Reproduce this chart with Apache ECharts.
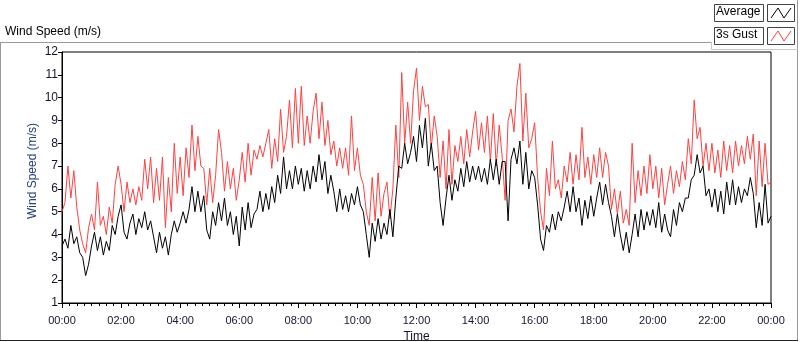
<!DOCTYPE html>
<html>
<head>
<meta charset="utf-8">
<script src="https://cdn.jsdelivr.net/npm/echarts@6/dist/echarts.min.js"></script>
<style>
  html, body { margin: 0; padding: 0; background: #fff; }
  #chart { width: 800px; height: 342px; }
</style>
</head>
<body>
<div id="chart"></div>
<script>
// one reading every 6 minutes, 00:00 .. 24:00
var stepMin = 6;

// Average wind speed (m/s), 10 readings per hour
var avgSpeed = [
  3.5, 3.8, 3.4, 4.4, 3.6, 3.9, 3.2, 3.0, 2.2, 2.7,
  3.5, 4.1, 3.3, 3.9, 3.1, 3.7, 3.3, 4.4, 4.0, 4.8,
  5.3, 4.1, 3.8, 4.5, 4.9, 4.0, 4.7, 4.3, 5.0, 4.2,
  4.6, 3.9, 3.2, 4.1, 3.4, 3.9, 3.1, 4.0, 4.6, 4.1,
  4.5, 5.0, 4.5, 5.1, 6.1, 5.0, 5.9, 5.0, 5.7, 4.2,
  3.8, 5.0, 4.4, 5.4, 4.6, 5.6, 4.4, 5.0, 4.0, 4.8,
  3.5, 5.2, 4.2, 5.4, 4.3, 4.9, 5.1, 5.9, 5.0, 5.8,
  5.1, 6.1, 5.4, 6.6, 5.8, 7.4, 6.0, 6.8, 6.0, 7.0,
  6.2, 6.9, 5.9, 6.8, 6.0, 7.0, 6.3, 7.5, 6.4, 7.2,
  5.8, 6.6, 5.9, 5.0, 6.0, 5.1, 5.7, 5.0, 5.8, 5.3,
  6.1, 5.3, 5.0, 4.0, 3.0, 4.5, 3.7, 4.7, 3.8, 4.5,
  4.0, 5.1, 3.9, 5.6, 7.0, 6.9, 8.0, 7.1, 7.6, 8.3,
  7.2, 8.8, 7.8, 9.1, 7.0, 8.0, 6.8, 7.0, 5.4, 4.4,
  5.6, 6.6, 5.5, 6.4, 5.9, 6.9, 6.1, 7.2, 6.3, 7.0,
  6.4, 7.0, 6.3, 6.9, 6.2, 7.3, 6.4, 7.3, 6.2, 7.2,
  7.2, 4.6, 7.3, 7.8, 7.1, 8.1, 6.2, 7.6, 6.0, 6.8,
  6.5, 5.3, 3.8, 3.3, 4.4, 4.1, 4.9, 4.2, 5.0, 4.6,
  5.2, 5.9, 5.0, 6.1, 5.0, 5.6, 4.4, 5.5, 4.7, 5.7,
  4.8, 5.6, 6.3, 5.3, 6.2, 5.4, 4.8, 3.9, 4.9, 4.0,
  3.3, 4.1, 3.2, 4.0, 4.9, 3.9, 5.1, 4.2, 5.0, 4.4,
  5.1, 4.3, 5.4, 4.1, 4.9, 4.2, 3.9, 5.1, 4.4, 5.4,
  5.0, 5.6, 5.6, 6.4, 6.6, 7.5, 6.7, 7.0, 5.7, 6.0,
  5.2, 6.0, 5.0, 5.9, 4.9, 6.3, 5.3, 6.4, 5.3, 6.1,
  5.4, 6.0, 5.7, 6.5, 5.8, 4.3, 5.4, 4.4, 6.2, 4.5,
  4.8
];

// 3 second gust (m/s)
var gustSpeed = [
  5.0, 5.4, 7.0, 5.6, 6.8, 5.2, 4.2, 3.6, 3.2, 4.3,
  4.9, 4.2, 6.3, 4.4, 4.8, 4.0, 5.2, 4.5, 6.2, 7.0,
  6.2, 5.0, 6.3, 5.4, 6.0, 5.3, 6.1, 5.5, 7.3, 6.0,
  7.4, 5.4, 6.9, 5.5, 7.4, 4.3, 6.5, 5.0, 8.0, 5.8,
  7.4, 5.7, 7.8, 6.5, 8.8, 6.8, 8.3, 7.0, 6.9, 5.3,
  6.9, 5.4, 6.6, 8.6, 7.6, 5.9, 7.2, 6.0, 6.9, 5.5,
  6.4, 7.6, 6.3, 8.0, 6.6, 7.7, 7.3, 7.9, 7.4, 8.0,
  8.6, 6.9, 8.2, 7.2, 9.5, 7.6, 8.3, 9.9, 7.8, 10.4,
  8.0, 10.5, 7.9, 9.2, 8.0, 9.4, 10.2, 8.2, 9.8, 7.9,
  9.0, 7.5, 8.1, 7.0, 7.8, 6.9, 7.8, 6.6, 9.2, 6.8,
  7.8, 6.6, 6.2, 5.0, 4.4, 6.5, 4.6, 6.7, 4.8, 5.8,
  6.3, 4.7, 6.0, 8.8, 6.5, 11.1, 8.0, 9.8, 8.0, 10.3,
  11.3, 9.0, 10.5, 9.6, 9.7, 7.8, 9.2, 8.3, 6.5, 8.1,
  6.0, 8.6, 6.2, 7.9, 7.2, 8.3, 7.1, 8.6, 7.4, 8.5,
  9.4, 7.7, 8.9, 7.6, 9.2, 7.2, 9.3, 7.0, 8.8, 7.4,
  5.5, 9.0, 9.5, 8.5, 10.5, 11.5, 8.1, 10.2, 7.8, 8.2,
  8.9, 6.5, 5.0, 4.2, 6.9, 5.7, 8.1, 6.0, 6.4, 5.6,
  7.0, 6.3, 7.6, 6.2, 7.5, 6.4, 8.7, 6.5, 7.4, 6.2,
  7.5, 6.5, 7.8, 6.5, 7.6, 7.0, 5.1, 6.0, 4.9, 5.9,
  4.5, 5.1, 4.4, 8.0, 5.4, 6.8, 5.7, 7.0, 5.8, 7.5,
  6.0, 7.0, 5.6, 6.9, 5.3, 6.2, 7.0, 5.8, 6.8, 6.1,
  7.2, 6.4, 8.2, 7.1, 9.9, 8.2, 8.7, 7.0, 8.0, 6.8,
  8.0, 6.7, 7.7, 6.5, 8.1, 6.8, 7.9, 6.7, 8.1, 7.0,
  7.9, 7.1, 8.3, 7.3, 8.4, 5.7, 8.1, 6.1, 8.0, 6.2,
  6.3
];

function pairs(vals) {
  return vals.map(function (v, i) { return [i * stepMin, v]; });
}
function hhmm(v) {
  var h = Math.floor(v / 60) % 24, m = v % 60;
  return (h < 10 ? '0' : '') + h + ':' + (m < 10 ? '0' : '') + m;
}

var font = 'Liberation Sans';
var txt = '#14142e';

var myChart = echarts.init(document.getElementById('chart'));
myChart.setOption({
  animation: false,
  textStyle: { fontFamily: font },
  grid: {
    left: 62, right: 29, top: 52, bottom: 39,
    outerBoundsMode: 'none', containLabel: false,
    show: true, borderColor: '#000', borderWidth: 1
  },
  xAxis: {
    type: 'value', min: 0, max: 1440, interval: 120,
    name: 'Time', nameLocation: 'middle', nameGap: 24,
    nameTextStyle: { color: txt, fontSize: 12 },
    axisLine: { lineStyle: { color: '#000' } },
    axisTick: { length: 5, lineStyle: { color: '#000' } },
    minorTick: { show: true, splitNumber: 8, length: 3, lineStyle: { color: '#000' } },
    axisLabel: { color: txt, fontSize: 11, margin: 12, formatter: hhmm },
    splitLine: { show: false }
  },
  yAxis: {
    type: 'value', min: 1, max: 12, interval: 1,
    axisLine: { show: true, lineStyle: { color: '#000' } },
    axisTick: { show: true, length: 4, lineStyle: { color: '#000' } },
    axisLabel: { color: txt, fontSize: 12, margin: 4 },
    splitLine: { show: false }
  },
  graphic: [
    // panel frame
    { type: 'line', shape: { x1: 0, y1: 42.5, x2: 712, y2: 42.5 }, style: { stroke: '#9a9a9a', lineWidth: 1 } },
    { type: 'line', shape: { x1: 0.5, y1: 42, x2: 0.5, y2: 341 }, style: { stroke: '#9a9a9a', lineWidth: 1 } },
    { type: 'line', shape: { x1: 797.5, y1: 0, x2: 797.5, y2: 341 }, style: { stroke: '#9a9a9a', lineWidth: 1 } },
    { type: 'line', shape: { x1: 0, y1: 340.5, x2: 798, y2: 340.5 }, style: { stroke: '#222', lineWidth: 1 } },
    { type: 'line', shape: { x1: 712, y1: 49.5, x2: 798, y2: 49.5 }, style: { stroke: '#c8c8c8', lineWidth: 1 } },
    { type: 'line', shape: { x1: 711.5, y1: 42, x2: 711.5, y2: 50 }, style: { stroke: '#c8c8c8', lineWidth: 1 } },
    // chart caption
    { type: 'text', left: 5, top: 26, style: { text: 'Wind Speed (m/s)', fill: '#000', font: '12px "Liberation Sans"' } },
    // y axis title
    { type: 'text', x: 33, y: 171, rotation: Math.PI / 2,
      style: { text: 'Wind Speed (m/s)', fill: '#22407a', font: '12px "Liberation Sans"', align: 'center', verticalAlign: 'middle' } },
    // legend: Average
    { type: 'rect', shape: { x: 714.5, y: 4.5, width: 49, height: 17 }, style: { fill: '#fff', stroke: '#444', lineWidth: 1 } },
    { type: 'text', left: 716, top: 6, style: { text: 'Average', fill: '#000', font: '12px "Liberation Sans"' } },
    { type: 'rect', shape: { x: 767.5, y: 4.5, width: 27, height: 17 }, style: { fill: '#fff', stroke: '#444', lineWidth: 1 } },
    { type: 'polyline', shape: { points: [[771, 18], [778, 8], [784, 18], [791, 8]] }, style: { stroke: '#000', fill: null, lineWidth: 1 } },
    // legend: 3s Gust
    { type: 'rect', shape: { x: 714.5, y: 27.5, width: 49, height: 17 }, style: { fill: '#fff', stroke: '#444', lineWidth: 1 } },
    { type: 'text', left: 716, top: 29, style: { text: '3s Gust', fill: '#000', font: '12px "Liberation Sans"' } },
    { type: 'rect', shape: { x: 767.5, y: 27.5, width: 27, height: 17 }, style: { fill: '#fff', stroke: '#444', lineWidth: 1 } },
    { type: 'polyline', shape: { points: [[771, 41], [778, 31], [784, 41], [791, 31]] }, style: { stroke: '#ff4040', fill: null, lineWidth: 1 } }
  ],
  series: [
    {
      name: '3s Gust', type: 'line', data: pairs(gustSpeed),
      showSymbol: false, lineStyle: { color: '#ff4040', width: 1 }, itemStyle: { color: '#ff4040' }
    },
    {
      name: 'Average', type: 'line', data: pairs(avgSpeed),
      showSymbol: false, lineStyle: { color: '#000', width: 1 }, itemStyle: { color: '#000' }
    }
  ]
});
</script>
</body>
</html>
